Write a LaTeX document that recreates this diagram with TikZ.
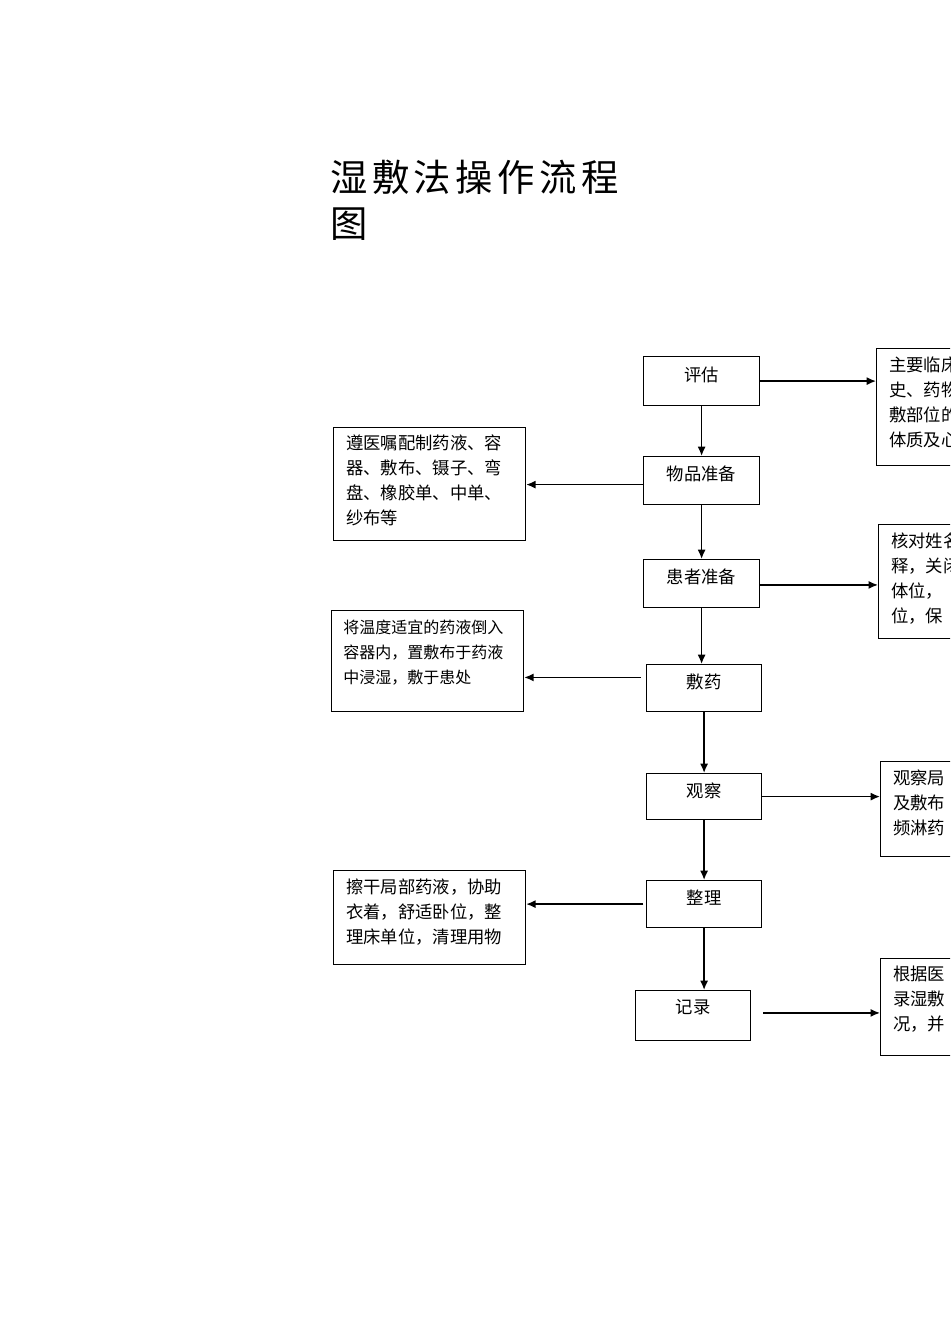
\documentclass[tikz,border=0pt]{standalone}
\usepackage{fontspec}
\setmainfont{Noto Sans CJK SC}
\newfontfamily\titlefont[LetterSpace=12]{Noto Sans CJK SC}
\usetikzlibrary{arrows.meta}
\begin{document}
\begin{tikzpicture}[x=0.75pt,y=-0.75pt,
  box/.style={draw,line width=0.9pt,anchor=north west,inner sep=0pt},
  lbl/.style={anchor=north,font=\fontsize{13}{17}\selectfont,inner sep=0pt},
  txt/.style={anchor=north west,align=left,inner sep=0pt,font=\fontsize{13}{18.75}\selectfont},
  arr/.style={-{Latex[length=7pt,width=6pt]},line width=1.1pt}]
\useasboundingbox (0,0) rectangle (950,1344);
\clip (0,0) rectangle (950,1344);
\node[anchor=north west,inner sep=0pt,align=left,font=\titlefont\fontsize{28}{34}\selectfont] (title) at (330,160) {湿敷法操作流程\\图};
% main boxes
\node[box,minimum width=116*0.75pt,minimum height=49*0.75pt] (b1) at (643,356) {};
\node[box,minimum width=116*0.75pt,minimum height=48*0.75pt] (b2) at (643,456) {};
\node[box,minimum width=116*0.75pt,minimum height=48*0.75pt] (b3) at (643,559) {};
\node[box,minimum width=115*0.75pt,minimum height=47*0.75pt] (b4) at (646,664) {};
\node[box,minimum width=115*0.75pt,minimum height=46*0.75pt] (b5) at (646,773) {};
\node[box,minimum width=115*0.75pt,minimum height=47*0.75pt] (b6) at (646,880) {};
\node[box,minimum width=115*0.75pt,minimum height=50*0.75pt] (b7) at (635,990) {};
\node[lbl] (t1) at ([yshift=-8pt]b1.north) {评估};
\node[lbl] (t2) at ([yshift=-7pt]b2.north) {物品准备};
\node[lbl] (t3) at ([yshift=-7pt]b3.north) {患者准备};
\node[lbl] (t4) at ([yshift=-7pt]b4.north) {敷药};
\node[lbl] (t5) at ([yshift=-7pt]b5.north) {观察};
\node[lbl] (t6) at ([yshift=-7pt]b6.north) {整理};
\node[lbl] (t7) at ([yshift=-7pt]b7.north) {记录};
% left boxes
\node[box,minimum width=192*0.75pt,minimum height=113*0.75pt] (l1) at (333,427) {};
\node[txt] (lt1) at (346,435) {遵医嘱配制药液、容\\器、敷布、镊子、弯\\盘、橡胶单、中单、\\纱布等};
\node[box,minimum width=192*0.75pt,minimum height=101*0.75pt] (l2) at (331,610) {};
\node[txt,font=\fontsize{12}{18.75}\selectfont] (lt2) at (343,620) {将温度适宜的药液倒入\\容器内，置敷布于药液\\中浸湿，敷于患处};
\node[box,minimum width=192*0.75pt,minimum height=94*0.75pt] (l3) at (333,870) {};
\node[txt] (lt3) at (346,879) {擦干局部药液，协助\\衣着，舒适卧位，整\\理床单位，清理用物};
% right boxes
\node[box,minimum width=120*0.75pt,minimum height=117*0.75pt] (r1) at (876,348) {};
\node[txt] (rt1) at (889,357) {主要临床\\史、药物\\敷部位的\\体质及心};
\node[box,minimum width=120*0.75pt,minimum height=114*0.75pt] (r2) at (878,524) {};
\node[txt] (rt2) at (891,533) {核对姓名\\释，关闭\\体位，\\位，保};
\node[box,minimum width=120*0.75pt,minimum height=95*0.75pt] (r3) at (880,761) {};
\node[txt] (rt3) at (893,770) {观察局\\及敷布\\频淋药};
\node[box,minimum width=120*0.75pt,minimum height=97*0.75pt] (r4) at (880,958) {};
\node[txt] (rt4) at (893,966) {根据医\\录湿敷\\况，并};
% anchor points for horizontal arrows
\coordinate (c2) at ([yshift=-3pt]b2.west);
\coordinate (c3) at ([yshift=-1pt]b3.east);
\coordinate (c4) at ([xshift=-4pt,yshift=8pt]b4.west);
\coordinate (c6) at ([xshift=-2pt]b6.west);
\coordinate (c7) at ([xshift=9pt,yshift=2pt]b7.east);
% vertical arrows
\draw[arr] (b1.south) -- (b2.north);
\draw[arr] (b2.south) -- (b3.north);
\draw[arr] (b3.south) -- (b4.north -| b3.south);
\draw[arr] (b4.south) -- (b5.north);
\draw[arr] (b5.south) -- (b6.north);
\draw[arr] (b6.south) -- (b7.north -| b6.south);
% horizontal arrows
\draw[arr] (b1.east) -- (r1.west |- b1.east);
\draw[arr] (c2) -- (l1.east |- c2);
\draw[arr] (c3) -- (r2.west |- c3);
\draw[arr] (c4) -- (l2.east |- c4);
\draw[arr] (b5.east) -- (r3.west |- b5.east);
\draw[arr] (c6) -- (l3.east |- c6);
\draw[arr] (c7) -- (r4.west |- c7);
\end{tikzpicture}
\end{document}
